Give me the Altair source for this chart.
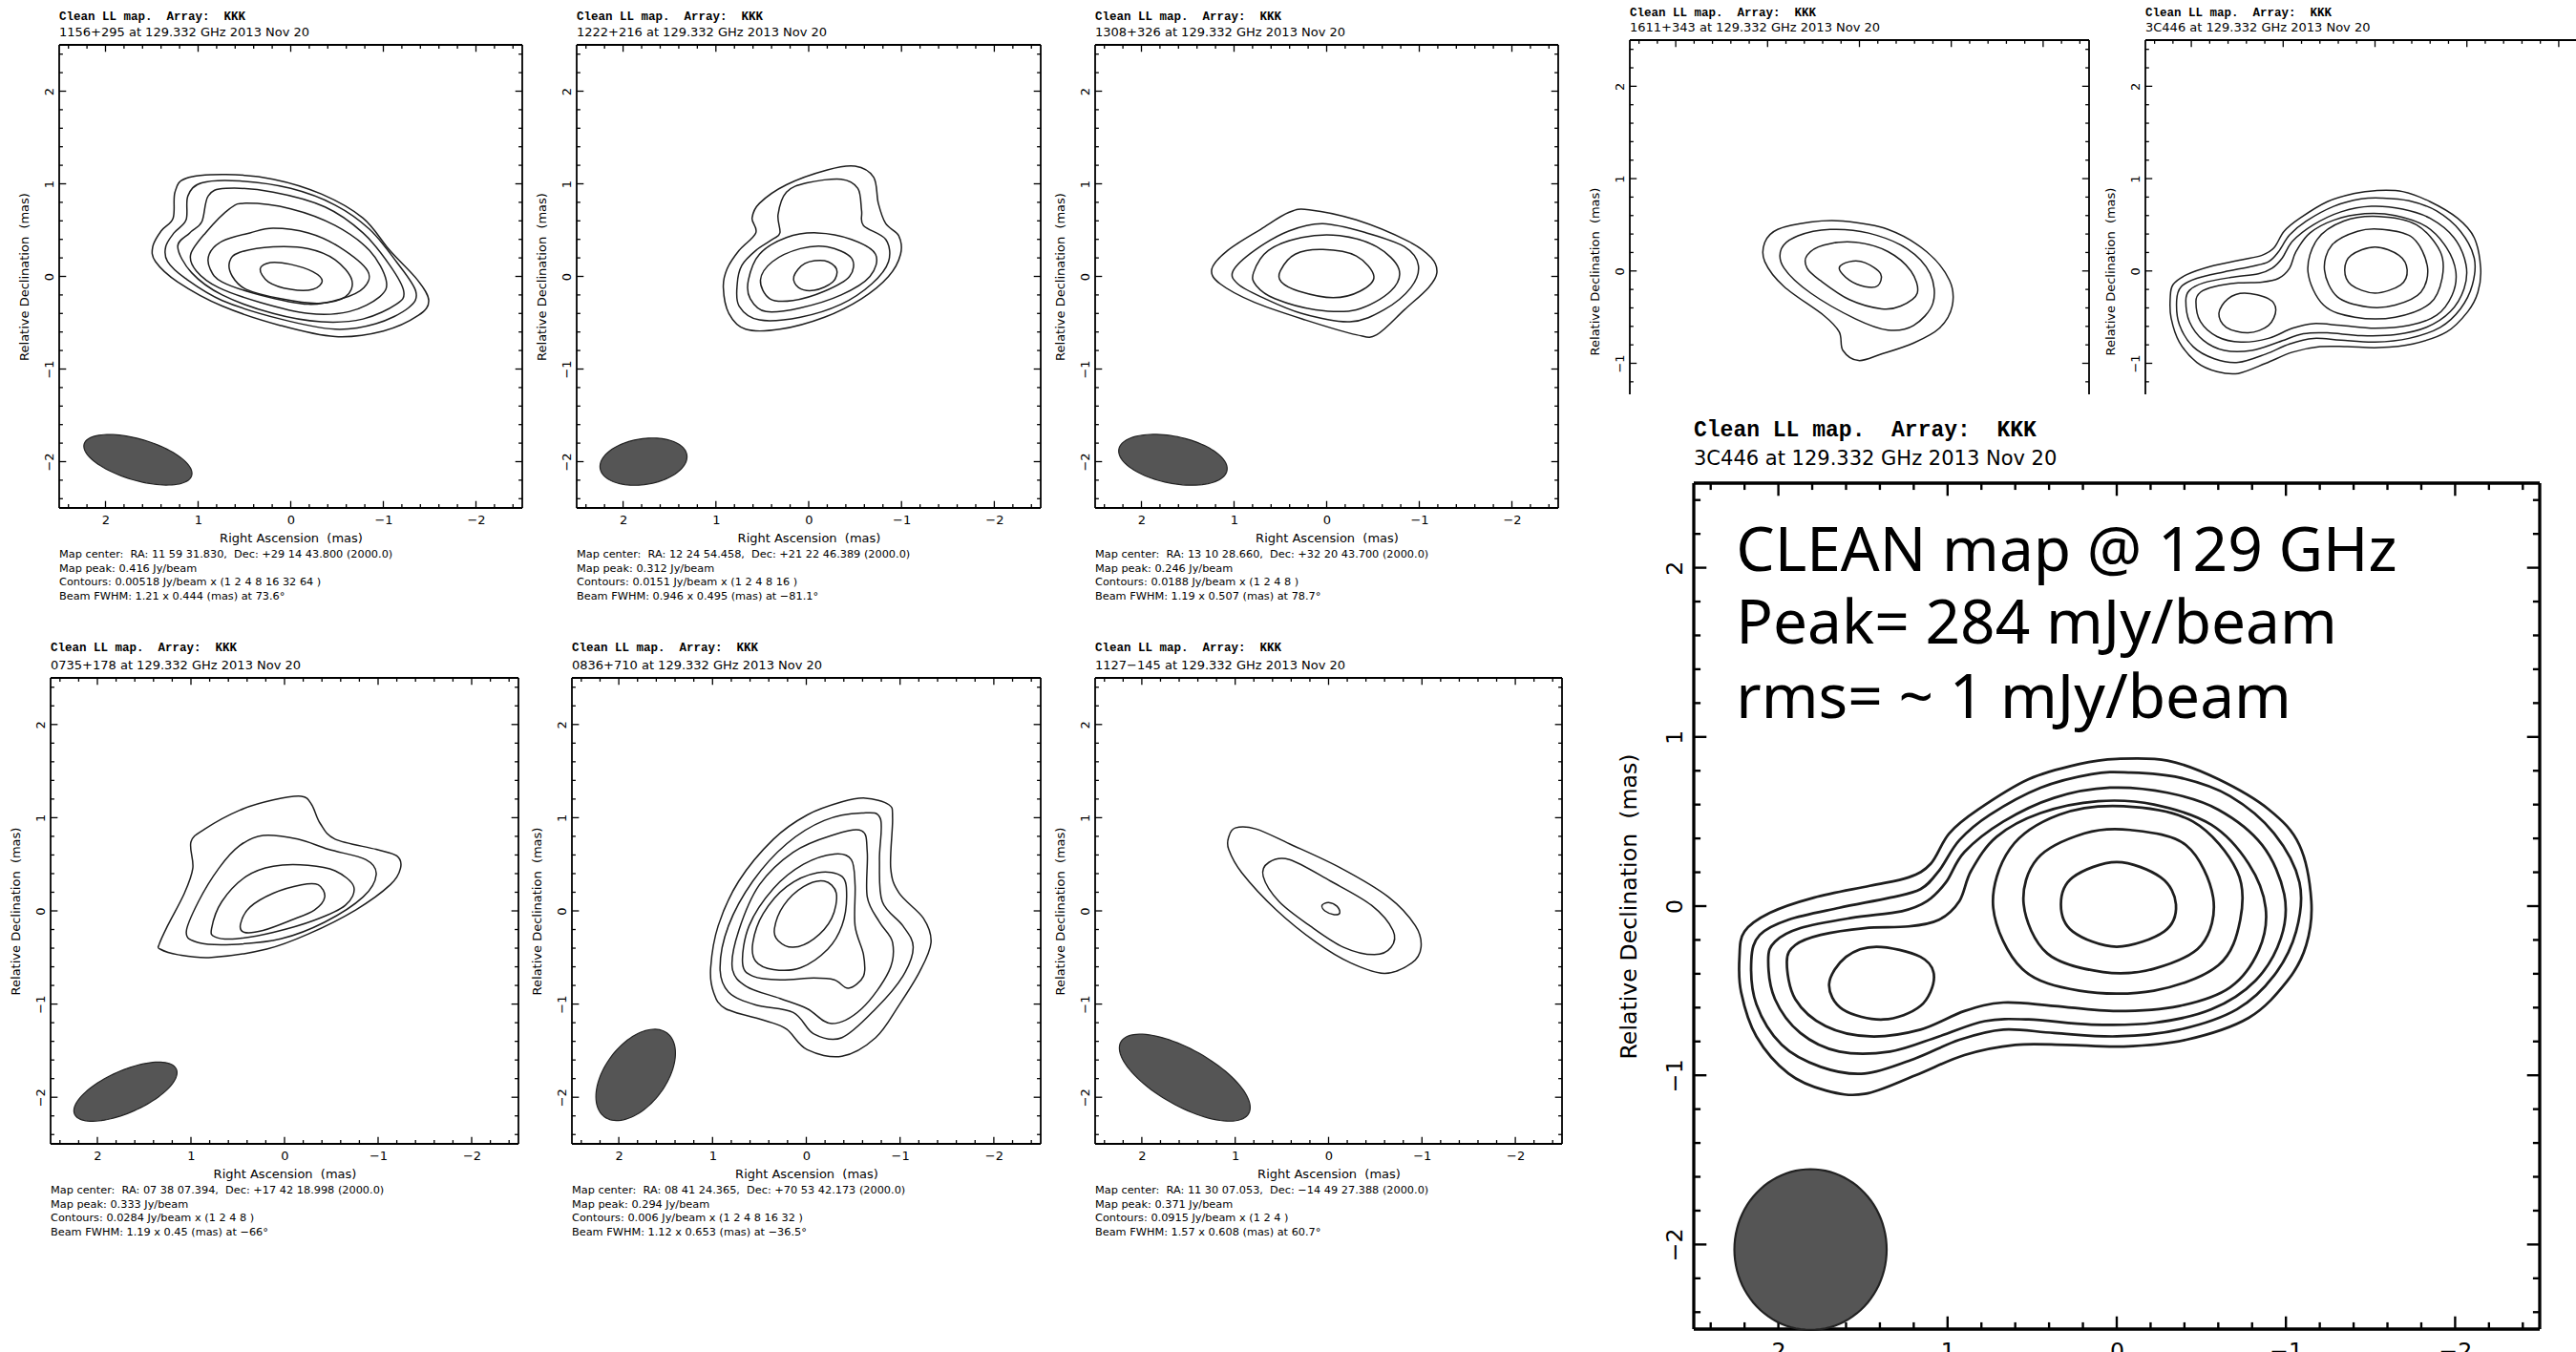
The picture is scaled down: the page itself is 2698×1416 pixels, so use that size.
import altair as alt
import numpy as np
import pandas as pd

# ---------------------------------------------------------------------------
# Contour vertices, (RA offset, Dec offset) in mas, outermost level first.
# ---------------------------------------------------------------------------
CONT_1156 = [
    [(1.49, 0.32), (1.40, 0.49), (1.27, 0.63), (1.25, 0.91), (1.13, 1.06), (0.70, 1.10), (0.19, 1.05),
     (-0.33, 0.89), (-0.78, 0.63), (-1.07, 0.28), (-1.37, -0.04), (-1.49, -0.26), (-1.38, -0.42),
     (-1.00, -0.59), (-0.48, -0.65), (0.11, -0.53), (0.74, -0.32), (1.22, -0.06), (1.46, 0.16)],
    [(1.35, 0.32), (1.26, 0.47), (1.13, 0.61), (1.11, 0.87), (0.96, 1.01), (0.55, 1.03), (0.0, 0.95),
     (-0.48, 0.77), (-0.85, 0.51), (-1.14, 0.16), (-1.35, -0.16), (-1.27, -0.34), (-0.92, -0.51),
     (-0.48, -0.57), (0.11, -0.46), (0.74, -0.26), (1.14, -0.02), (1.33, 0.16)],
    [(1.22, 0.32), (1.09, 0.47), (0.96, 0.59), (0.89, 0.87), (0.70, 0.95), (0.19, 0.91), (-0.37, 0.75),
     (-0.78, 0.47), (-1.07, 0.12), (-1.22, -0.16), (-1.14, -0.30), (-0.78, -0.46), (-0.33, -0.49),
     (0.19, -0.40), (0.74, -0.20), (1.07, 0.04)],
    [(1.08, 0.24), (0.92, 0.47), (0.66, 0.73), (0.48, 0.79), (0.0, 0.73), (-0.48, 0.55), (-0.85, 0.28),
     (-1.03, -0.04), (-0.96, -0.22), (-0.63, -0.38), (-0.19, -0.40), (0.33, -0.28), (0.78, -0.12),
     (1.02, 0.06)],
    [(0.88, 0.24), (0.74, 0.38), (0.44, 0.47), (0.19, 0.52), (-0.19, 0.47), (-0.52, 0.32), (-0.83, 0.06),
     (-0.79, -0.12), (-0.55, -0.24), (-0.19, -0.30), (0.33, -0.20), (0.74, -0.06), (0.87, 0.08)],
    [(0.66, 0.16), (0.55, 0.26), (0.19, 0.32), (-0.19, 0.30), (-0.48, 0.18), (-0.66, -0.04), (-0.59, -0.22),
     (-0.30, -0.29), (0.11, -0.24), (0.48, -0.14), (0.63, 0.0)],
    [(0.33, 0.08), (0.22, 0.15), (0.0, 0.13), (-0.24, 0.05), (-0.34, -0.05), (-0.24, -0.14), (0.0, -0.14),
     (0.24, -0.06)],
]

CONT_1222 = [
    [(0.92, -0.12), (0.88, 0.08), (0.75, 0.28), (0.57, 0.47), (0.61, 0.63), (0.53, 0.79), (0.24, 0.99),
     (-0.20, 1.15), (-0.50, 1.19), (-0.70, 1.07), (-0.75, 0.79), (-0.83, 0.57), (-0.97, 0.44), (-0.99, 0.24),
     (-0.86, 0.0), (-0.57, -0.24), (-0.17, -0.44), (0.31, -0.57), (0.68, -0.57), (0.86, -0.40)],
    [(0.77, -0.08), (0.72, 0.12), (0.57, 0.28), (0.39, 0.40), (0.31, 0.47), (0.33, 0.67), (0.24, 0.91),
     (0.02, 1.01), (-0.35, 1.05), (-0.53, 0.95), (-0.57, 0.71), (-0.59, 0.55), (-0.83, 0.40), (-0.86, 0.16),
     (-0.68, -0.08), (-0.35, -0.30), (0.09, -0.44), (0.53, -0.47), (0.75, -0.32)],
    [(0.65, -0.04), (0.53, 0.24), (0.24, 0.42), (-0.09, 0.47), (-0.46, 0.40), (-0.72, 0.24), (-0.66, 0.0),
     (-0.35, -0.20), (0.09, -0.34), (0.46, -0.38), (0.63, -0.24)],
    [(0.52, -0.04), (0.39, 0.16), (0.09, 0.30), (-0.20, 0.32), (-0.46, 0.20), (-0.44, 0.0), (-0.17, -0.16),
     (0.17, -0.26), (0.42, -0.24)],
    [(0.16, 0.0), (0.04, 0.14), (-0.17, 0.17), (-0.30, 0.08), (-0.26, -0.06), (-0.06, -0.15), (0.11, -0.12)],
]

CONT_1308 = [
    [(1.24, 0.08), (1.07, 0.28), (0.71, 0.51), (0.41, 0.69), (0.19, 0.72), (-0.32, 0.61), (-0.88, 0.38),
     (-1.13, 0.20), (-1.19, 0.04), (-1.10, -0.12), (-0.84, -0.36), (-0.54, -0.63), (-0.32, -0.63),
     (0.23, -0.47), (0.78, -0.28), (1.15, -0.08)],
    [(1.01, 0.06), (0.78, 0.28), (0.41, 0.49), (0.04, 0.57), (-0.43, 0.47), (-0.84, 0.32), (-0.99, 0.12),
     (-0.91, -0.12), (-0.62, -0.36), (-0.25, -0.49), (0.27, -0.40), (0.71, -0.22), (0.96, -0.08)],
    [(0.79, 0.04), (0.63, 0.28), (0.27, 0.42), (-0.14, 0.44), (-0.54, 0.32), (-0.78, 0.08), (-0.69, -0.16),
     (-0.32, -0.36), (0.12, -0.36), (0.56, -0.24), (0.76, -0.10)],
    [(0.50, 0.06), (0.34, 0.24), (0.04, 0.29), (-0.32, 0.22), (-0.51, 0.0), (-0.36, -0.16), (-0.07, -0.23),
     (0.30, -0.16), (0.49, -0.06)],
]

CONT_0735 = [
    [(1.34, -0.36), (1.25, -0.16), (1.07, 0.19), (0.98, 0.46), (1.0, 0.74), (0.85, 0.88), (0.48, 1.08),
     (0.12, 1.19), (-0.18, 1.23), (-0.29, 1.14), (-0.38, 0.94), (-0.54, 0.77), (-0.98, 0.66), (-1.20, 0.59),
     (-1.24, 0.46), (-1.13, 0.28), (-0.76, 0.01), (-0.25, -0.25), (0.19, -0.41), (0.78, -0.50),
     (1.14, -0.47), (1.33, -0.41)],
    [(1.05, -0.23), (0.92, 0.10), (0.70, 0.46), (0.48, 0.70), (0.23, 0.81), (-0.14, 0.77), (-0.47, 0.66),
     (-0.87, 0.55), (-0.98, 0.39), (-0.84, 0.15), (-0.43, -0.12), (0.04, -0.30), (0.56, -0.36), (0.92, -0.34)],
    [(0.78, -0.19), (0.67, 0.10), (0.41, 0.37), (0.12, 0.48), (-0.25, 0.49), (-0.54, 0.43), (-0.74, 0.26),
     (-0.65, 0.06), (-0.32, -0.10), (0.12, -0.23), (0.52, -0.30), (0.74, -0.28)],
    [(0.47, -0.14), (0.37, 0.04), (0.12, 0.19), (-0.18, 0.28), (-0.36, 0.28), (-0.43, 0.15), (-0.32, 0.01),
     (-0.07, -0.10), (0.23, -0.21), (0.43, -0.23)],
]

CONT_0836 = [
    [(1.02, -0.61), (0.94, -0.16), (0.72, 0.32), (0.35, 0.77), (-0.01, 1.03), (-0.38, 1.17), (-0.63, 1.21),
     (-0.88, 1.14), (-0.92, 0.99), (-0.90, 0.46), (-0.99, 0.19), (-1.25, -0.08), (-1.33, -0.34),
     (-1.21, -0.65), (-0.99, -1.01), (-0.74, -1.36), (-0.38, -1.56), (-0.01, -1.49), (0.21, -1.27),
     (0.43, -1.18), (0.86, -1.05), (0.99, -0.87)],
    [(0.92, -0.61), (0.83, -0.16), (0.57, 0.32), (0.21, 0.72), (-0.19, 0.97), (-0.59, 1.05), (-0.79, 0.99),
     (-0.78, 0.55), (-0.81, 0.10), (-1.03, -0.16), (-1.14, -0.39), (-1.03, -0.70), (-0.74, -1.05),
     (-0.38, -1.36), (-0.08, -1.32), (0.14, -1.09), (0.54, -1.01), (0.83, -0.87)],
    [(0.79, -0.61), (0.72, -0.21), (0.50, 0.28), (0.14, 0.63), (-0.27, 0.81), (-0.59, 0.86), (-0.65, 0.63),
     (-0.65, 0.15), (-0.78, -0.12), (-0.92, -0.34), (-0.88, -0.65), (-0.59, -1.05), (-0.27, -1.21),
     (-0.01, -1.05), (0.28, -0.94), (0.64, -0.81)],
    [(0.68, -0.56), (0.61, -0.16), (0.35, 0.24), (0.03, 0.50), (-0.30, 0.61), (-0.48, 0.55), (-0.52, 0.28),
     (-0.52, -0.16), (-0.61, -0.47), (-0.61, -0.70), (-0.45, -0.83), (-0.30, -0.74), (-0.08, -0.72),
     (0.28, -0.74), (0.57, -0.70)],
    [(0.57, -0.34), (0.46, -0.03), (0.21, 0.26), (-0.12, 0.41), (-0.38, 0.37), (-0.43, 0.15), (-0.38, -0.16),
     (-0.23, -0.41), (0.06, -0.61), (0.35, -0.63), (0.54, -0.54)],
    [(0.34, -0.19), (0.24, 0.06), (0.03, 0.26), (-0.19, 0.32), (-0.32, 0.19), (-0.27, -0.08), (-0.08, -0.30),
     (0.14, -0.39), (0.30, -0.32)],
]

CONT_1127 = [
    [(1.07, 0.79), (1.0, 0.89), (0.78, 0.88), (0.42, 0.72), (-0.13, 0.46), (-0.64, 0.15), (-0.93, -0.16),
     (-0.99, -0.39), (-0.89, -0.56), (-0.60, -0.67), (-0.24, -0.56), (0.13, -0.34), (0.56, 0.01),
     (0.93, 0.41), (1.07, 0.66)],
    [(0.70, 0.37), (0.64, 0.52), (0.42, 0.55), (-0.02, 0.32), (-0.46, 0.06), (-0.69, -0.21), (-0.67, -0.39),
     (-0.49, -0.47), (-0.16, -0.39), (0.20, -0.16), (0.53, 0.10)],
    [(0.07, 0.06), (0.0, 0.09), (-0.09, 0.05), (-0.12, -0.02), (-0.06, -0.04), (0.04, 0.0)],
]

CONT_1611 = [
    [(1.03, 0.31), (0.89, 0.45), (0.53, 0.53), (0.18, 0.54), (-0.31, 0.45), (-0.73, 0.21), (-0.98, -0.10),
     (-1.01, -0.38), (-0.87, -0.62), (-0.59, -0.78), (-0.24, -0.90), (0.01, -0.97), (0.18, -0.86),
     (0.22, -0.66), (0.39, -0.48), (0.82, -0.17), (1.03, 0.10)],
    [(0.85, 0.24), (0.67, 0.38), (0.32, 0.45), (-0.10, 0.41), (-0.52, 0.24), (-0.77, -0.03), (-0.80, -0.35),
     (-0.59, -0.59), (-0.31, -0.64), (0.04, -0.52), (0.53, -0.24), (0.82, 0.03)],
    [(0.57, 0.17), (0.39, 0.28), (0.04, 0.31), (-0.31, 0.21), (-0.56, 0.0), (-0.63, -0.24), (-0.45, -0.38),
     (-0.24, -0.41), (0.11, -0.31), (0.43, -0.10), (0.57, 0.03)],
    [(0.22, 0.03), (0.11, 0.10), (-0.06, 0.09), (-0.23, -0.03), (-0.20, -0.16), (-0.06, -0.17), (0.11, -0.10)],
]

CONT_3C446 = [
    [(2.23, -0.30), (2.20, -0.15), (2.05, -0.04), (1.79, 0.05), (1.46, 0.12), (1.23, 0.17), (1.10, 0.25),
     (0.99, 0.43), (0.82, 0.57), (0.52, 0.75), (0.22, 0.84), (0.0, 0.87), (-0.30, 0.86), (-0.60, 0.75),
     (-0.90, 0.57), (-1.08, 0.36), (-1.15, 0.03), (-1.12, -0.23), (-1.01, -0.44), (-0.78, -0.66),
     (-0.41, -0.79), (-0.04, -0.83), (0.30, -0.82), (0.60, -0.82), (0.90, -0.88), (1.19, -1.0),
     (1.49, -1.11), (1.72, -1.09), (1.94, -0.99), (2.13, -0.77), (2.22, -0.51)],
    [(2.16, -0.32), (2.11, -0.17), (1.94, -0.08), (1.64, -0.01), (1.34, 0.05), (1.16, 0.10), (1.05, 0.21),
     (0.93, 0.39), (0.75, 0.54), (0.45, 0.70), (0.15, 0.78), (-0.07, 0.79), (-0.37, 0.76), (-0.67, 0.65),
     (-0.93, 0.43), (-1.08, 0.14), (-1.06, -0.15), (-0.93, -0.41), (-0.71, -0.61), (-0.37, -0.73),
     (0.0, -0.77), (0.37, -0.75), (0.67, -0.73), (0.93, -0.79), (1.19, -0.90), (1.49, -0.99), (1.75, -0.95),
     (1.98, -0.82), (2.13, -0.58)],
    [(2.06, -0.32), (2.02, -0.21), (1.87, -0.13), (1.57, -0.07), (1.27, -0.03), (1.12, 0.03), (1.01, 0.14),
     (0.90, 0.32), (0.67, 0.50), (0.37, 0.64), (0.04, 0.70), (-0.30, 0.67), (-0.60, 0.57), (-0.86, 0.36),
     (-0.99, 0.07), (-0.97, -0.19), (-0.82, -0.44), (-0.56, -0.61), (-0.22, -0.69), (0.15, -0.70),
     (0.52, -0.67), (0.78, -0.68), (1.05, -0.77), (1.34, -0.86), (1.64, -0.86), (1.87, -0.75), (2.02, -0.55)],
    [(1.95, -0.33), (1.90, -0.23), (1.75, -0.17), (1.49, -0.13), (1.23, -0.12), (1.05, -0.08), (0.93, 0.03),
     (0.86, 0.21), (0.71, 0.41), (0.45, 0.55), (0.11, 0.62), (-0.22, 0.60), (-0.56, 0.48), (-0.78, 0.25),
     (-0.88, -0.01), (-0.84, -0.26), (-0.67, -0.48), (-0.37, -0.59), (0.0, -0.62), (0.37, -0.59),
     (0.67, -0.57), (0.90, -0.62), (1.16, -0.73), (1.46, -0.77), (1.72, -0.71), (1.90, -0.55)],
    [(0.73, -0.01), (0.63, 0.34), (0.34, 0.54), (-0.04, 0.59), (-0.45, 0.50), (-0.71, 0.21), (-0.73, -0.08),
     (-0.60, -0.35), (-0.22, -0.50), (0.22, -0.50), (0.56, -0.37)],
    [(1.70, -0.46), (1.60, -0.30), (1.42, -0.24), (1.16, -0.30), (1.08, -0.42), (1.16, -0.59), (1.38, -0.67),
     (1.62, -0.61)],
    [(0.55, 0.01), (0.47, 0.28), (0.19, 0.43), (-0.08, 0.45), (-0.41, 0.36), (-0.57, 0.05), (-0.50, -0.23),
     (-0.22, -0.37), (0.08, -0.39), (0.41, -0.28)],
    [(0.33, 0.01), (0.26, 0.17), (0.0, 0.26), (-0.26, 0.17), (-0.35, 0.01), (-0.28, -0.15), (0.0, -0.24),
     (0.26, -0.15)],
]

# Restoring beams: centre RA, centre Dec, FWHM major, FWHM minor (mas), position angle (deg)
BEAM_1156 = (1.65, -1.98, 1.21, 0.444, 73.6)
BEAM_1222 = (1.78, -2.00, 0.946, 0.495, -81.1)
BEAM_1308 = (1.66, -1.98, 1.19, 0.507, 78.7)
BEAM_0735 = (1.70, -1.94, 1.19, 0.45, -66.0)
BEAM_0836 = (1.82, -1.76, 1.12, 0.653, -36.5)
BEAM_1127 = (1.54, -1.79, 1.57, 0.608, 60.7)
BEAM_3C446 = (1.81, -2.03, 0.95, 0.90, 0.0)

# Map annotations printed below each panel
FOOT_1156 = ["Map center:\u00a0 RA: 11 59 31.830,\u00a0 Dec: +29 14 43.800 (2000.0)", "Map peak: 0.416 Jy/beam",
             "Contours: 0.00518 Jy/beam x (1 2 4 8 16 32 64 )", "Beam FWHM: 1.21 x 0.444 (mas) at 73.6\u00b0"]
FOOT_1222 = ["Map center:\u00a0 RA: 12 24 54.458,\u00a0 Dec: +21 22 46.389 (2000.0)", "Map peak: 0.312 Jy/beam",
             "Contours: 0.0151 Jy/beam x (1 2 4 8 16 )", "Beam FWHM: 0.946 x 0.495 (mas) at \u221281.1\u00b0"]
FOOT_1308 = ["Map center:\u00a0 RA: 13 10 28.660,\u00a0 Dec: +32 20 43.700 (2000.0)", "Map peak: 0.246 Jy/beam",
             "Contours: 0.0188 Jy/beam x (1 2 4 8 )", "Beam FWHM: 1.19 x 0.507 (mas) at 78.7\u00b0"]
FOOT_0735 = ["Map center:\u00a0 RA: 07 38 07.394,\u00a0 Dec: +17 42 18.998 (2000.0)", "Map peak: 0.333 Jy/beam",
             "Contours: 0.0284 Jy/beam x (1 2 4 8 )", "Beam FWHM: 1.19 x 0.45 (mas) at \u221266\u00b0"]
FOOT_0836 = ["Map center:\u00a0 RA: 08 41 24.365,\u00a0 Dec: +70 53 42.173 (2000.0)", "Map peak: 0.294 Jy/beam",
             "Contours: 0.006 Jy/beam x (1 2 4 8 16 32 )", "Beam FWHM: 1.12 x 0.653 (mas) at \u221236.5\u00b0"]
FOOT_1127 = ["Map center:\u00a0 RA: 11 30 07.053,\u00a0 Dec: \u221214 49 27.388 (2000.0)", "Map peak: 0.371 Jy/beam",
             "Contours: 0.0915 Jy/beam x (1 2 4 )", "Beam FWHM: 1.57 x 0.608 (mas) at 60.7\u00b0"]

NOTE_LINES = ["CLEAN map @ 129 GHz", "Peak= 284 mJy/beam", "rms= ~ 1 mJy/beam"]
NOTE_RA = [2.25, 2.25, 2.25]
NOTE_DEC = [1.98, 1.55, 1.11]

MAJOR = [-2, -1, 0, 1, 2]
MINOR = [float(v) for v in np.round(np.arange(-2.4, 2.41, 0.2), 1) if abs(v - round(v)) > 1e-6]

TITLE1 = "Clean LL map.\u00a0 Array:\u00a0 KKK"
SUB = " at 129.332 GHz 2013 Nov 20"
XTITLE = "Right Ascension\u00a0 (mas)"
YTITLE = "Relative Declination\u00a0 (mas)"
SANS = "DejaVu Sans"
MONO = "Liberation Mono"
INK = "#1e1e1e"


def contour_frame(contours):
    rows = []
    for cid, pts in enumerate(contours):
        for i, (ra, dec) in enumerate(pts):
            rows.append({"cid": cid, "i": i, "ra": ra, "dec": dec})
    return pd.DataFrame(rows)


def beam_frame(beam, n=96):
    ra0, dec0, major, minor, pa = beam
    t = np.linspace(0, 2 * np.pi, n, endpoint=False)
    p = np.radians(pa)
    u, v = 0.5 * major * np.cos(t), 0.5 * minor * np.sin(t)
    return pd.DataFrame({"i": np.arange(n),
                         "ra": ra0 + u * np.sin(p) + v * np.cos(p),
                         "dec": dec0 + u * np.cos(p) - v * np.sin(p)})


def edge_frame(xlim, ylim, sides):
    xr, xl = xlim  # right edge value, left edge value (RA increases to the left)
    yb, yt = ylim
    rows = []
    if "l" in sides:
        rows.append({"ra": xl, "ra2": xl, "dec": yb, "dec2": yt})
    if "r" in sides:
        rows.append({"ra": xr, "ra2": xr, "dec": yb, "dec2": yt})
    if "t" in sides:
        rows.append({"ra": xl, "ra2": xr, "dec": yt, "dec2": yt})
    if "b" in sides:
        rows.append({"ra": xl, "ra2": xr, "dec": yb, "dec2": yb})
    return pd.DataFrame(rows)


def tick_frame(xlim, ylim, sides, big=0.075, small=0.04):
    xr, xl = xlim
    yb, yt = ylim
    rows = []
    for vals, ln in ((MAJOR, big), (MINOR, small)):
        for v in vals:
            if xr <= v <= xl:
                if "b" in sides:
                    rows.append({"ra": v, "ra2": v, "dec": yb, "dec2": yb + ln})
                if "t" in sides:
                    rows.append({"ra": v, "ra2": v, "dec": yt, "dec2": yt - ln})
            if yb <= v <= yt:
                if "l" in sides:
                    rows.append({"ra": xl, "ra2": xl - ln, "dec": v, "dec2": v})
                if "r" in sides:
                    rows.append({"ra": xr, "ra2": xr + ln, "dec": v, "dec2": v})
    return pd.DataFrame(rows)


def panel(name, contours, beam, foot, W, H, L, R, T, B, dx=0, dy=0, xlim=(-2.5, 2.5), ylim=(-2.5, 2.5),
          sides="lrtb", k=1.0, xlabels=True, xtitle=True, ytitle_y=None, tsize=(12.5, 13.0),
          ty=(-30.0, -13.4), note=False):
    # the plotting frame (W x H) sits at (dx, dy) inside a view of (dx + W) x (dy + H)
    Wv, Hv = dx + W, dy + H
    xs = alt.Scale(domain=list(xlim), range=[dx + W, dx], nice=False, zero=False)
    ys = alt.Scale(domain=list(ylim), range=[dy + H, dy], nice=False, zero=False)
    fs = 13 * k

    if xlabels:
        xkw = dict(values=[v for v in MAJOR if xlim[0] <= v <= xlim[1]], format="d", grid=False,
                   ticks=False, domain=False, labelFont=SANS, labelFontSize=fs, labelColor="black",
                   labelPadding=6.5 * k, labelFlush=False)
        if xtitle:
            xkw.update(title=XTITLE, titleFont=SANS, titleFontSize=fs, titleFontWeight="normal",
                       titleColor="black", titleX=dx + W / 2, titleY=31 * k, titleAlign="center",
                       titleBaseline="middle")
        else:
            xkw.update(title="")
        xaxis = alt.Axis(**xkw)
    else:
        xaxis = None

    ykw = dict(values=[v for v in MAJOR if ylim[0] <= v <= ylim[1]], format="d", grid=False,
               ticks=False, domain=False, labelFont=SANS, labelFontSize=fs, labelColor="black",
               labelAngle=270, labelAlign="center", labelBaseline="bottom", labelPadding=4 * k,
               labelFlush=False,
               title=YTITLE, titleFont=SANS, titleFontSize=fs, titleFontWeight="normal",
               titleColor="black", titleAngle=270, titleX=-37 * k,
               titleY=dy + (ytitle_y if ytitle_y is not None else H / 2),
               titleAlign="center", titleBaseline="middle")
    if dx:
        ykw["offset"] = -dx
    yaxis = alt.Axis(**ykw)

    X = alt.X("ra:Q", scale=xs, axis=xaxis)
    Y = alt.Y("dec:Q", scale=ys, axis=yaxis)

    one = pd.DataFrame({"k": [0]})
    layers = [
        # invisible cell that fixes the footprint of this panel in the mosaic
        alt.Chart(one).mark_rect(opacity=0).encode(
            x=alt.value(-L), x2=alt.value(Wv + R), y=alt.value(-T), y2=alt.value(Hv + B)),
        # two-line map header
        alt.Chart(one).mark_text(align="left", baseline="middle", font=MONO, fontWeight="bold",
                                 fontSize=tsize[0], color="black").encode(
            x=alt.value(dx), y=alt.value(dy + ty[0]), text=alt.value(TITLE1)),
        alt.Chart(one).mark_text(align="left", baseline="middle", font=SANS,
                                 fontSize=tsize[1], color="black").encode(
            x=alt.value(dx), y=alt.value(dy + ty[1]), text=alt.value(name + SUB)),
        alt.Chart(edge_frame(xlim, ylim, sides)).mark_rule(color="black", strokeWidth=1.8 * k).encode(
            x=X, x2=alt.X2("ra2:Q"), y=Y, y2=alt.Y2("dec2:Q")),
        alt.Chart(tick_frame(xlim, ylim, sides)).mark_rule(color="black", strokeWidth=1.3 * k).encode(
            x=X, x2=alt.X2("ra2:Q"), y=Y, y2=alt.Y2("dec2:Q")),
    ]
    if beam is not None:
        layers.append(
            alt.Chart(beam_frame(beam)).mark_line(
                interpolate="linear-closed", fill="#555555", fillOpacity=1, stroke="#222222",
                strokeWidth=1.2 * k).encode(x=X, y=Y, order=alt.Order("i:Q")))
    layers.append(
        alt.Chart(contour_frame(contours)).mark_line(
            interpolate="cardinal-closed", stroke=INK, strokeWidth=1.5 * k).encode(
            x=X, y=Y, detail="cid:N", order=alt.Order("i:Q")))
    if foot is not None:
        layers.append(
            alt.Chart(one).mark_text(align="left", baseline="top", font=SANS, fontSize=11.3,
                                     lineHeight=14.6, color="black").encode(
                x=alt.value(dx), y=alt.value(dy + H + 43), text=alt.value(foot)))
    if note:
        note_df = pd.DataFrame({"ra": NOTE_RA, "dec": NOTE_DEC, "t": NOTE_LINES})
        layers.append(
            alt.Chart(note_df).mark_text(align="left", baseline="alphabetic", font="Noto Sans",
                                         fontSize=64, color="black").encode(x=X, y=Y, text="t:N"))

    return alt.layer(*layers).properties(width=Wv, height=Hv)


# ---------------- left mosaic: two rows of three maps ----------------
p1 = panel("1156+295", CONT_1156, BEAM_1156, FOOT_1156, W=485, H=485, dx=9, dy=5, L=53, R=9, T=42, B=118)
p2 = panel("1222+216", CONT_1222, BEAM_1222, FOOT_1222, W=486, H=485, dy=5, L=48, R=8, T=42, B=118)
p3 = panel("1308+326", CONT_1308, BEAM_1308, FOOT_1308, W=485, H=485, dy=5, L=49, R=24, T=42, B=118)
p4 = panel("0735+178", CONT_0735, BEAM_0735, FOOT_0735, W=490, H=488, L=53, R=13, T=60, B=218,
           ty=(-32.0, -13.5))
p5 = panel("0836+710", CONT_0836, BEAM_0836, FOOT_0836, W=491, H=488, L=43, R=8, T=60, B=218,
           ty=(-32.0, -13.5))
p6 = panel("1127\u2212145", CONT_1127, BEAM_1127, FOOT_1127, W=489, H=488, L=49, R=20, T=60, B=218,
           ty=(-32.0, -13.5))

# ---------------- right column: two cropped maps and an enlarged 3C446 ----------------
p7 = panel("1611+343", CONT_1611, None, None, W=481, H=371, L=51, R=12, T=42, B=0,
           ylim=(-1.336, 2.5), sides="ltr", xlabels=False, ytitle_y=242, ty=(-29.3, -13.0))
p8 = panel("3C446", CONT_3C446, None, None, W=451, H=371, L=47, R=2, T=42, B=0,
           xlim=(-2.188, 2.5), ylim=(-1.336, 2.5), sides="lt", xlabels=False, ytitle_y=242,
           ty=(-29.3, -13.0))
p9 = panel("3C446", CONT_3C446, BEAM_3C446, None, W=886, H=886, dx=67, L=51, R=38, T=92, B=45,
           k=1.82, xtitle=False, tsize=(23, 21), ty=(-56.0, -25.0), note=True)

row1 = alt.hconcat(p1, p2, p3, spacing=0, bounds="full")
row2 = alt.hconcat(p4, p5, p6, spacing=0, bounds="full")
left = alt.vconcat(row1, row2, spacing=0, bounds="full")
top_right = alt.hconcat(p7, p8, spacing=0, bounds="full")
right = alt.vconcat(top_right, p9, spacing=0, bounds="full")

chart = (
    alt.hconcat(left, right, spacing=0, bounds="full")
    .properties(padding={"left": 0, "top": 0, "right": -2, "bottom": -20}, background="white")
    .configure_view(stroke=None)
)

chart.save("out.html", embed_options={"renderer": "svg", "actions": False})
